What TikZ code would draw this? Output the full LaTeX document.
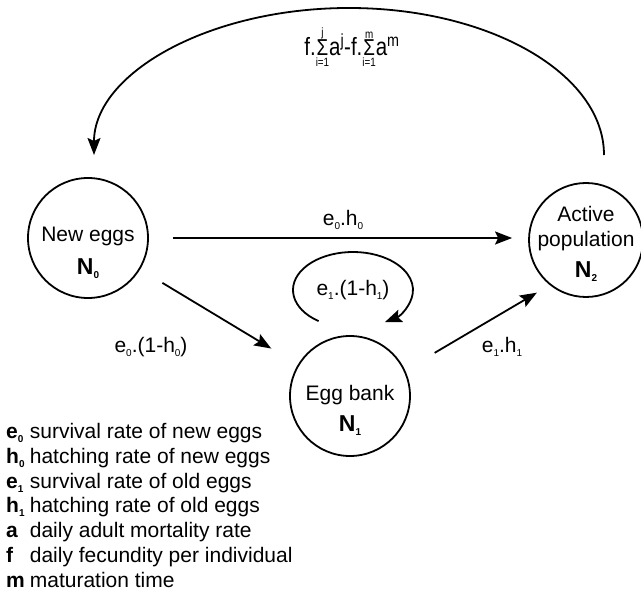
\documentclass[tikz,border=0pt]{standalone}
\usepackage{fontspec}
\usepackage{graphicx}
\setmainfont{Liberation Sans}
\usetikzlibrary{arrows.meta,calc}
\newcommand\lsub[1]{\raisebox{-0.35ex}{\fontsize{10}{10}\selectfont #1}}
\newcommand\limtxt[1]{\mbox{\fontsize{12}{12}\selectfont #1}}
\newcommand\sigm{\mathop{\mbox{\fontsize{23}{23}\selectfont Σ}}}
\begin{document}
\begin{tikzpicture}[x=1pt,y=1pt,
  state/.style={circle,draw,line width=1.8pt,minimum size=120pt,inner sep=0pt},
  conn/.style={line width=1.8pt,-{Stealth[length=17pt,width=13pt,inset=3pt]}},
  lbl/.style={font=\fontsize{21}{25}\selectfont,inner sep=0pt},
  ]
\useasboundingbox (0,0) rectangle (641,592);
% states
\node[state] (n0) at (88,354) {};
\node[state] (n1) at (350,196) {};
\node[state,minimum size=114pt] (n2) at (586,352) {};
\node[lbl,align=center] (n0t) at (88,339) {New eggs\\[8pt]{\fontsize{23}{25}\selectfont\textbf{N}}\lsub{\textbf{0}}};
\node[lbl,align=center] (n1t) at (350,182) {Egg bank\\[6pt]{\fontsize{23}{25}\selectfont\textbf{N}}\lsub{\textbf{1}}};
\node[lbl,align=center] (n2t) at (586,348) {Active\\population\\[6pt]{\fontsize{23}{25}\selectfont\textbf{N}}\lsub{\textbf{2}}};
% connectors
\draw[conn] ([xshift=24pt]n0.east) -- ([xshift=-16pt]n0.east -| n2.west);
\draw[conn,shorten <=26pt,shorten >=31pt] (n0) -- (n1);
\draw[conn] ($(n1.center)+(27:95)$) -- ($(n2.center)+(227:72)$);
\coordinate (aS) at ($(n2.center)+(18,85)$);
\draw[conn] (aS) arc[start angle=0,end angle=180,x radius=255,y radius=147];
\coordinate (lS) at ($(n1.center)+(3,106)+(235:60 and 38)$);
\draw[conn] (lS) arc[start angle=235,end angle=-58,x radius=60,y radius=38];
% labels
\node[lbl] (l1) at (343,372) {e\lsub{0}.h\lsub{0}};
\node[lbl] (l2) at (151,245) {e\lsub{0}.(1-h\lsub{0})};
\node[lbl] (l3) at (502,245) {e\lsub{1}.h\lsub{1}};
\node[lbl] (l4) at (353,302) {e\lsub{1}.(1-h\lsub{1})};
\node[lbl,font=\fontsize{25}{27}\selectfont] (fm) at (352,545) {\scalebox{0.82}[1]{f.$\sigm\limits^{\limtxt{j}}_{\limtxt{i=1}}$a\textsuperscript{j}-f.$\sigm\limits^{\limtxt{m}}_{\limtxt{i=1}}$a\textsuperscript{m}}};
% legend
\node[lbl,anchor=north west,font=\fontsize{21}{24.8}\selectfont] (leg) at (6,171) {%
\begin{tabular}[t]{@{}l@{\hspace{5pt}}l@{}}
\textbf{e}\lsub{\textbf{0}} & survival rate of new eggs\\
\textbf{h}\lsub{\textbf{0}} & hatching rate of new eggs\\
\textbf{e}\lsub{\textbf{1}} & survival rate of old eggs\\
\textbf{h}\lsub{\textbf{1}} & hatching rate of old eggs\\
\textbf{a} & daily adult mortality rate\\
\textbf{f} & daily fecundity per individual\\
\textbf{m} & maturation time
\end{tabular}};
\end{tikzpicture}
\end{document}
